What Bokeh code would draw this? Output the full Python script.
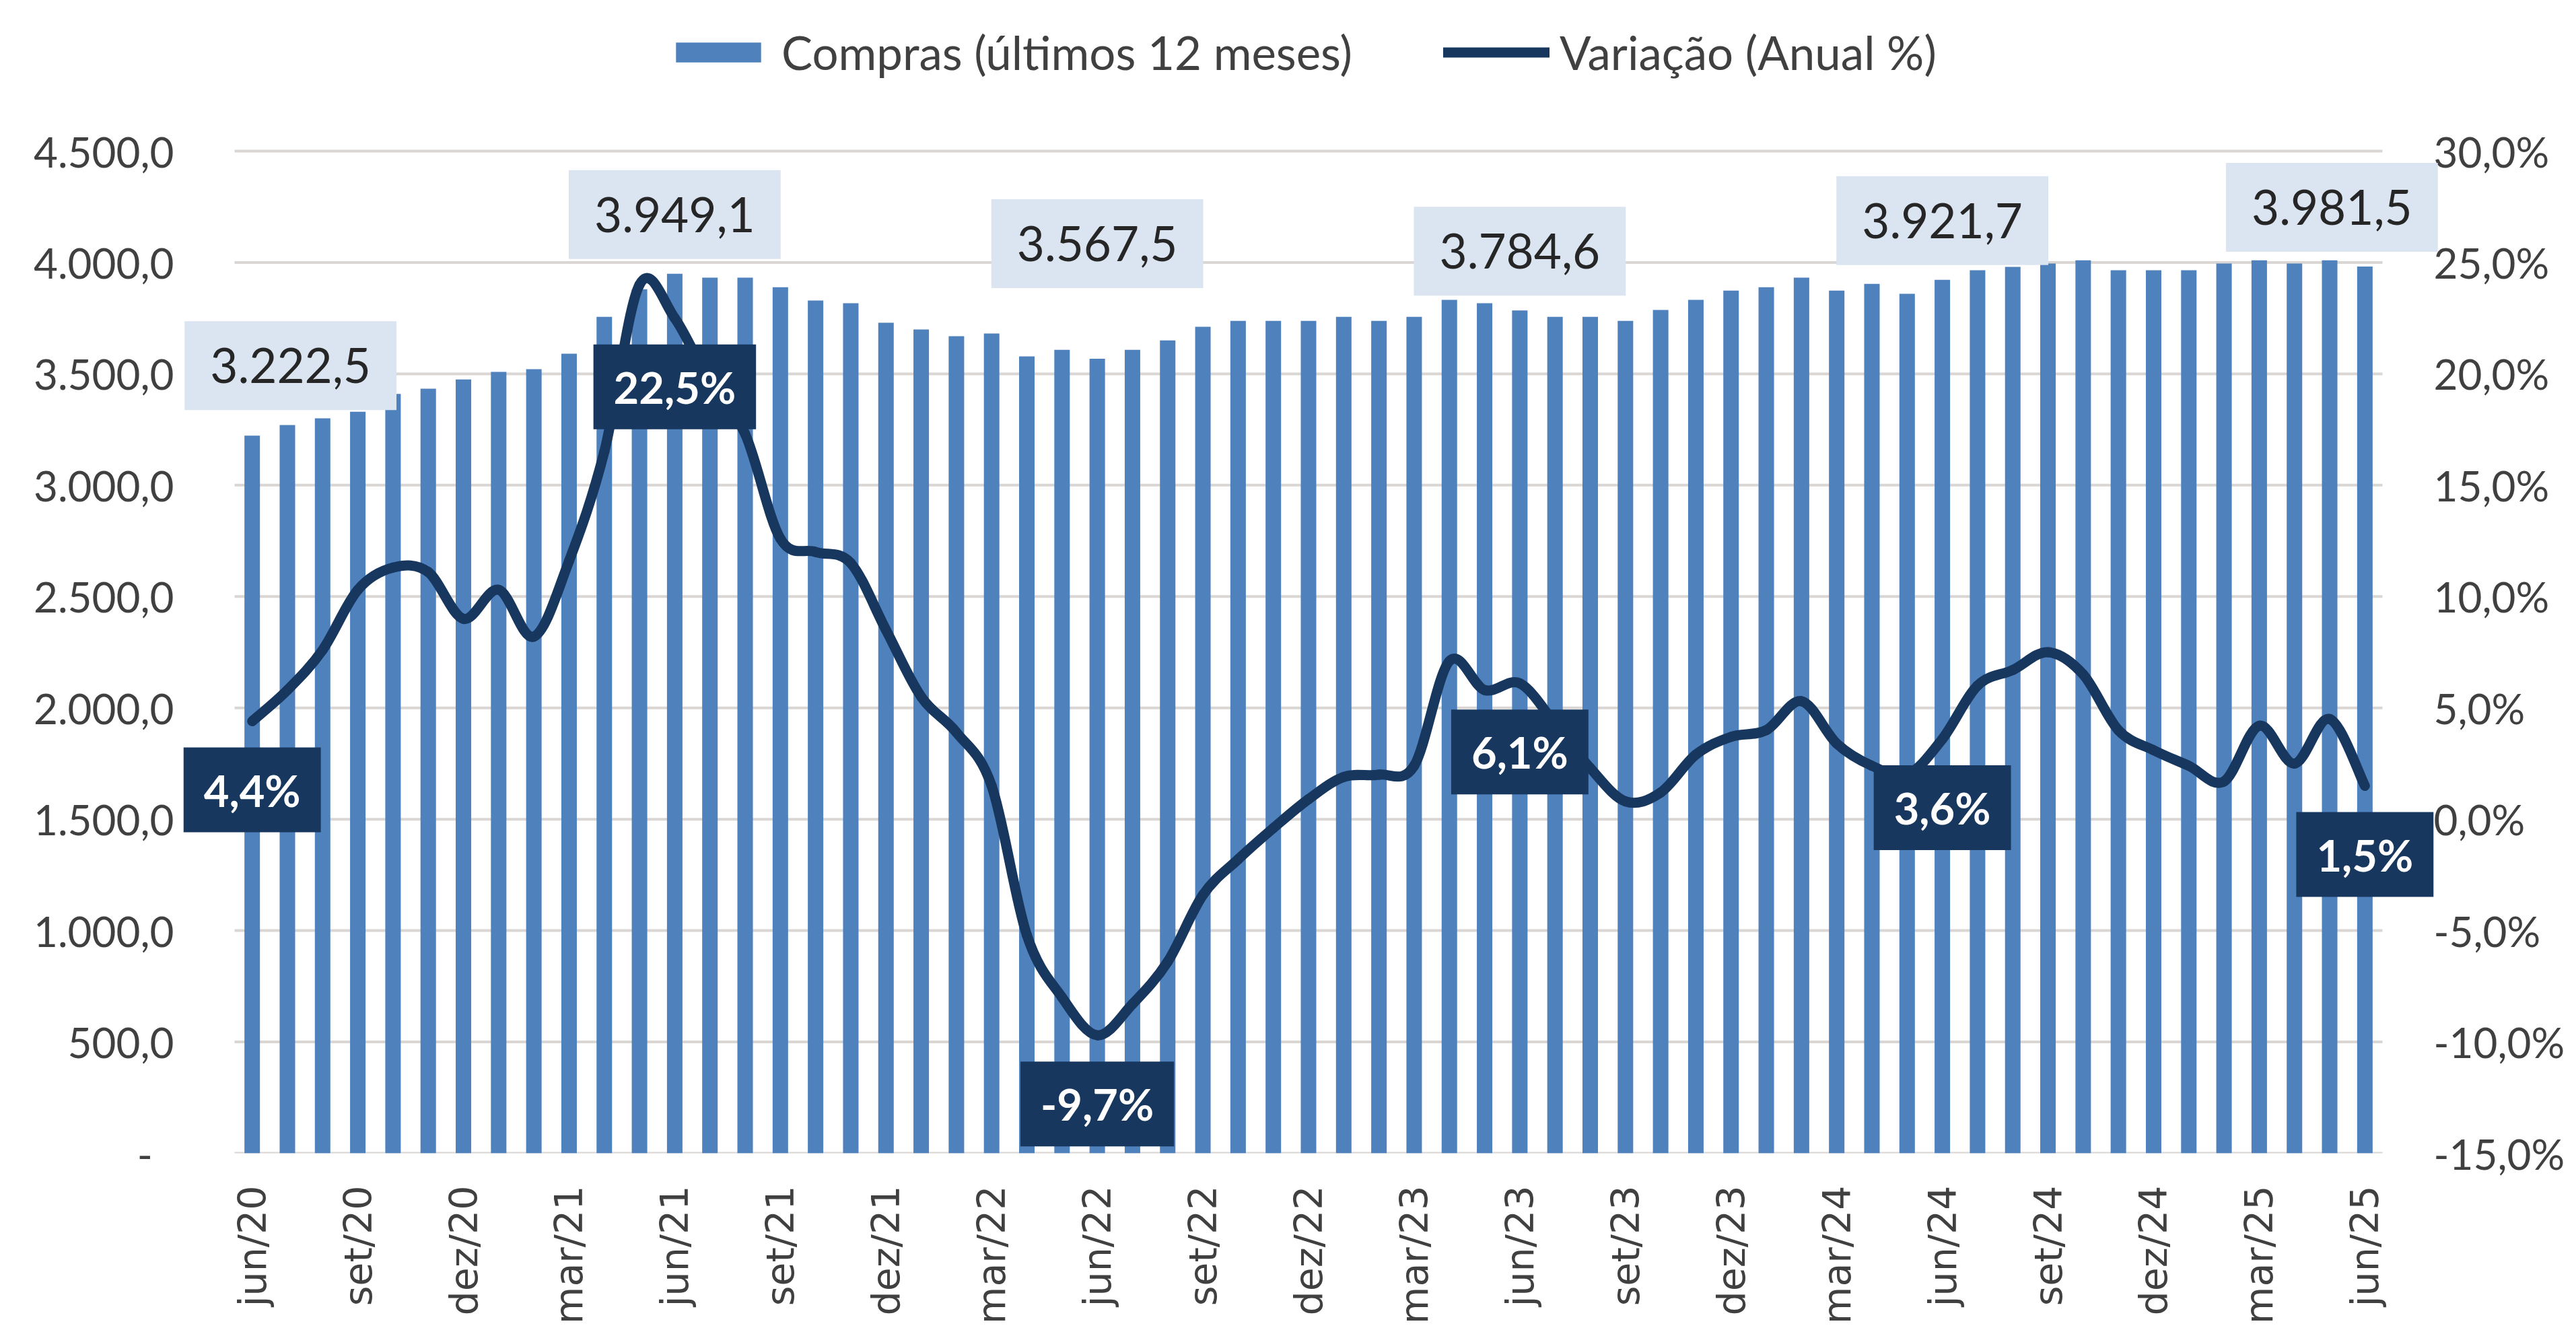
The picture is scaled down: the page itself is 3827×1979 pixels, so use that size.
import math
from bokeh.plotting import figure
from bokeh.models import Range1d, LinearAxis, FixedTicker, Label, Legend, LegendItem
from bokeh.embed import file_html
from bokeh.resources import INLINE

# ---------------- data ----------------
months = [
    "jun/20", "jul/20", "ago/20", "set/20", "out/20", "nov/20", "dez/20",
    "jan/21", "fev/21", "mar/21", "abr/21", "mai/21", "jun/21", "jul/21", "ago/21", "set/21", "out/21", "nov/21", "dez/21",
    "jan/22", "fev/22", "mar/22", "abr/22", "mai/22", "jun/22", "jul/22", "ago/22", "set/22", "out/22", "nov/22", "dez/22",
    "jan/23", "fev/23", "mar/23", "abr/23", "mai/23", "jun/23", "jul/23", "ago/23", "set/23", "out/23", "nov/23", "dez/23",
    "jan/24", "fev/24", "mar/24", "abr/24", "mai/24", "jun/24", "jul/24", "ago/24", "set/24", "out/24", "nov/24", "dez/24",
    "jan/25", "fev/25", "mar/25", "abr/25", "mai/25", "jun/25",
]

compras = [
    3222.5, 3270, 3300, 3330, 3410, 3433, 3475, 3509, 3521, 3590,
    3756, 3880, 3949.1, 3932, 3932, 3889, 3829, 3817, 3729, 3699,
    3669, 3681, 3578, 3608, 3567.5, 3608, 3650, 3711, 3738, 3738,
    3738, 3756, 3738, 3756, 3832, 3817, 3784.6, 3756, 3756, 3738,
    3787, 3832, 3874, 3889, 3932, 3874, 3904, 3859, 3921.7, 3965,
    3980, 3995, 4010, 3965, 3965, 3965, 3995, 4010, 3995, 4010, 3981.5,
]

variacao = [
    4.4, 5.8, 7.6, 10.3, 11.3, 11.1, 9.0, 10.3, 8.2, 11.6,
    16.5, 24.0, 22.5, 19.6, 17.3, 12.6, 12.0, 11.5, 8.5, 5.5,
    3.9, 1.5, -5.2, -8.0, -9.7, -8.3, -6.4, -3.4, -1.8, -0.4,
    0.9, 1.9, 2.0, 2.4, 7.1, 5.8, 6.1, 4.3, 2.3, 0.8,
    1.2, 2.9, 3.7, 4.0, 5.3, 3.4, 2.4, 2.0, 3.6, 6.0,
    6.7, 7.5, 6.5, 4.0, 3.1, 2.4, 1.7, 4.2, 2.5, 4.5, 1.5,
]

highlight_idx = [0, 12, 24, 36, 48, 60]          # months with data labels
left_ticks = [0, 500, 1000, 1500, 2000, 2500, 3000, 3500, 4000, 4500]
right_ticks = [-15, -10, -5, 0, 5, 10, 15, 20, 25, 30]
x_ticks = list(range(0, 61, 3))

# ---------------- styling / layout ----------------
BAR = "#4f81bd"
NAVY = "#17375e"
LIGHT = "#dbe5f1"
GRID = "#d9d6d3"
TXT = "#404040"
FONT = "Lato"

PLOT_W, PLOT_H = 3191, 1489        # visible plot area (gridlines) in px
EXT_L, EXT_R, EXT_T = 84, 84, 200  # extra frame room so labels/legend are not clipped


def br_num(v):
    s = f"{v:,.1f}"
    return s.replace(",", "X").replace(".", ",").replace("X", ".")


def br_pct(v):
    return f"{v:.1f}%".replace(".", ",")


n = len(compras)
xs = list(range(n))

ppc = PLOT_W / n                                   # px per category
ymin, ymax = left_ticks[0], left_ticks[-1]
pmin, pmax = right_ticks[0], right_ticks[-1]
x_range = Range1d(-0.5 - EXT_L / ppc, n - 0.5 + EXT_R / ppc)
y_range = Range1d(ymin, ymax + EXT_T * (ymax - ymin) / PLOT_H)
pct_range = Range1d(pmin, pmax + EXT_T * (pmax - pmin) / PLOT_H)

p = figure(
    frame_width=PLOT_W + EXT_L + EXT_R, frame_height=PLOT_H + EXT_T,
    x_range=x_range, y_range=y_range,
    output_backend="svg", toolbar_location=None,
    min_border_left=264, min_border_right=150, min_border_top=24, min_border_bottom=230,
    background_fill_color="white", border_fill_color="white", outline_line_color=None,
)
p.extra_y_ranges = {"pct": pct_range}

# grid (drawn only over the category span)
p.xgrid.grid_line_color = None
p.ygrid.grid_line_color = None
p.segment(x0=[-0.5] * len(left_ticks), x1=[n - 0.5] * len(left_ticks),
          y0=left_ticks, y1=left_ticks, line_color=GRID, line_width=4)

# left axis
ya = p.yaxis[0]
ya.ticker = FixedTicker(ticks=left_ticks)
ya.major_label_overrides = {t: ("-\u00a0\u00a0" if t == 0 else br_num(t)) for t in left_ticks}
ya.axis_line_color = None
ya.major_tick_line_color = None
ya.minor_tick_line_color = None
ya.major_label_text_font = FONT
ya.major_label_text_font_size = "62px"
ya.major_label_text_color = TXT
ya.major_label_standoff = 0

# right axis
ra = LinearAxis(y_range_name="pct")
ra.ticker = FixedTicker(ticks=right_ticks)
ra.major_label_overrides = {t: br_pct(t) for t in right_ticks}
ra.axis_line_color = None
ra.major_tick_line_color = None
ra.minor_tick_line_color = None
ra.major_label_text_font = FONT
ra.major_label_text_font_size = "62px"
ra.major_label_text_color = TXT
ra.major_label_standoff = -14
p.add_layout(ra, "right")

# x axis
xa = p.xaxis[0]
xa.ticker = FixedTicker(ticks=x_ticks)
xa.major_label_overrides = {i: months[i] for i in x_ticks}
xa.major_label_orientation = math.pi / 2
xa.axis_line_color = None
xa.major_tick_line_color = None
xa.minor_tick_line_color = None
xa.major_label_text_font = "DejaVu Sans"
xa.major_label_text_font_size = "57px"
xa.major_label_text_color = TXT
xa.major_label_standoff = 42

# bars
bars = p.vbar(x=xs, top=compras, width=0.44, fill_color=BAR, line_color=None)

# smoothed line (cubic Bezier segments through the data points)
x0, y0, x1, y1, cx0, cy0, cx1, cy1 = [], [], [], [], [], [], [], []
for i in range(n - 1):
    a = max(i - 1, 0)
    b = min(i + 2, n - 1)
    x0.append(xs[i]); y0.append(variacao[i])
    x1.append(xs[i + 1]); y1.append(variacao[i + 1])
    cx0.append(xs[i] + (xs[i + 1] - xs[a]) / 6)
    cy0.append(variacao[i] + (variacao[i + 1] - variacao[a]) / 6)
    cx1.append(xs[i + 1] - (xs[b] - xs[i]) / 6)
    cy1.append(variacao[i + 1] - (variacao[b] - variacao[i]) / 6)
p.bezier(x0=x0, y0=y0, x1=x1, y1=y1, cx0=cx0, cy0=cy0, cx1=cx1, cy1=cy1,
         line_color=NAVY, line_width=15, line_cap="round", y_range_name="pct")
legend_line = p.line(xs, variacao, line_color=NAVY, line_width=15, line_cap="round",
                     y_range_name="pct", visible=False)

# value labels (light boxes)
value_dx = {0: 57, 60: -49}
value_dy = {0: 104, 24: 171}
for i in highlight_idx:
    p.add_layout(Label(
        x=xs[i], y=compras[i], x_offset=value_dx.get(i, 0), y_offset=value_dy.get(i, 88),
        text=br_num(compras[i]), text_align="center", text_baseline="middle",
        text_font=FONT, text_font_size="71px", text_color="#262626",
        background_fill_color=LIGHT, border_line_color=None,
        padding=dict(left=38, right=38, top=40, bottom=40),
    ))

# percentage labels (dark boxes)
for i in highlight_idx:
    p.add_layout(Label(
        x=xs[i], y=variacao[i], y_range_name="pct", y_offset=-102,
        text=br_pct(variacao[i]), text_align="center", text_baseline="middle",
        text_font=FONT, text_font_size="65px", text_font_style="bold", text_color="white",
        background_fill_color=NAVY, border_line_color=None,
        padding=dict(left=30, right=30, top=24, bottom=24),
    ))

legend = Legend(
    items=[LegendItem(label="Compras (últimos 12 meses)", renderers=[bars]),
           LegendItem(label="Variação (Anual %)", renderers=[legend_line])],
    location=(724, PLOT_H + EXT_T - 95), orientation="horizontal",
    glyph_width=158, glyph_height=37, label_standoff=15, spacing=135,
    label_text_font=FONT, label_text_font_size="69px", label_text_color=TXT,
    padding=0, margin=0, border_line_color=None, background_fill_alpha=0,
)
p.add_layout(legend)

open("out.html", "w").write(file_html(p, INLINE))
